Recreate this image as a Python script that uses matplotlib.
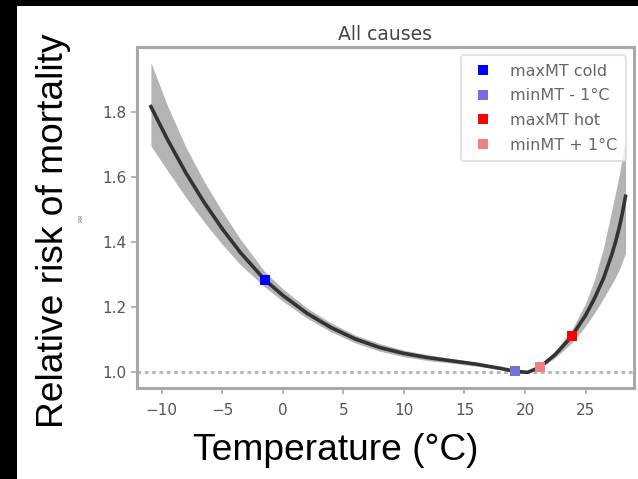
import matplotlib
matplotlib.use("Agg")
import matplotlib.pyplot as plt
from matplotlib.patches import Rectangle

# ---- data ----
temps = [-10.9, -9.5, -8, -6.5, -5, -3.5, -1.5, 0, 2, 4, 6, 8, 10, 12, 14, 16, 18,
         19.2, 20.2, 21.2, 22.5, 23.85, 25, 25.75, 26.5, 27.15, 27.5, 27.8, 28.05, 28.3]
rr = [1.815, 1.712, 1.611, 1.521, 1.440, 1.367, 1.284, 1.236, 1.181, 1.137, 1.102, 1.076,
      1.058, 1.045, 1.035, 1.025, 1.012, 1.003, 1.0, 1.015, 1.055, 1.11, 1.175, 1.228,
      1.29, 1.36, 1.403, 1.447, 1.49, 1.54]
rr_low = [1.695, 1.617, 1.536, 1.461, 1.392, 1.330, 1.262, 1.218, 1.166, 1.124, 1.090, 1.065,
          1.048, 1.036, 1.028, 1.019, 1.008, 1.001, 1.0, 1.012, 1.045, 1.09, 1.142, 1.183,
          1.228, 1.27, 1.293, 1.317, 1.34, 1.366]
rr_high = [1.95, 1.815, 1.690, 1.585, 1.493, 1.408, 1.309, 1.256, 1.197, 1.151, 1.114, 1.088,
           1.068, 1.054, 1.042, 1.031, 1.016, 1.005, 1.0, 1.018, 1.065, 1.13, 1.212, 1.285,
           1.385, 1.495, 1.555, 1.61, 1.665, 1.72]

marker_labels = ["maxMT cold", "minMT - 1°C", "maxMT hot", "minMT + 1°C"]
marker_temps = [-1.5, 19.2, 23.85, 21.2]
marker_rr = [1.284, 1.003, 1.11, 1.015]
marker_colors = ["#0000ff", "#7070e0", "#ff0000", "#f08080"]

xticks = [-10, -5, 0, 5, 10, 15, 20, 25]
yticks = [1.0, 1.2, 1.4, 1.6, 1.8]

W, H = 638, 479
fig = plt.figure(figsize=(W / 100, H / 100), dpi=100)
fig.patch.set_facecolor("white")

# black borders (left / top) of the original screenshot
fig.add_artist(Rectangle((0, 0), 16.5 / W, 1, transform=fig.transFigure,
                         facecolor="black", edgecolor="none", zorder=10))
fig.add_artist(Rectangle((0, 1 - 6 / H), 1, 6 / H, transform=fig.transFigure,
                         facecolor="black", edgecolor="none", zorder=10))

left, right, top, bottom = 137, 634, 47, 388
ax = fig.add_axes([left / W, 1 - bottom / H, (right - left) / W, (bottom - top) / H])

txt_col = "#555555"
spine_col = "#a8a8a8"

ax.axhline(1.0, color="#b8b8b8", linestyle=(0, (1.2, 1.2)), linewidth=2.2, zorder=1)
ax.fill_between(temps, rr_low, rr_high, color="#b4b4b4", linewidth=0, zorder=2)
ax.plot(temps, rr, color="#333333", linewidth=2.6, zorder=3, solid_joinstyle="round")

for lab, t, v, c in zip(marker_labels, marker_temps, marker_rr, marker_colors):
    ax.plot([t], [v], linestyle="none", marker="s", markersize=6.5, color=c,
            markeredgewidth=0, label=lab, zorder=4)

ax.set_xlim(-12.05, 29.0)
ax.set_ylim(0.952, 1.998)
ax.set_xticks(xticks)
ax.set_yticks(yticks)
ax.set_xticklabels([f"{t}".replace("-", "\u2212") for t in xticks])
ax.set_yticklabels([f"{t:.1f}" for t in yticks])
ax.tick_params(colors=spine_col, labelcolor=txt_col, labelsize=11, length=4, width=1.2)
ax.tick_params(axis="x", pad=7)
for s in ax.spines.values():
    s.set_color(spine_col)
    s.set_linewidth(2.2)

ax.set_title("All causes", fontsize=13.5, color="#444444", pad=5)
ax.set_ylabel("RR", fontsize=4.5, color="#777777", labelpad=14)

leg = ax.legend(loc="upper right", fontsize=11.5, labelcolor="#666666", frameon=True,
                handletextpad=0.9, labelspacing=0.6, borderpad=0.55, markerscale=1.0,
                handlelength=1.6)
leg.get_frame().set_edgecolor("#dddddd")
leg.get_frame().set_linewidth(1.5)

big = {"family": "Liberation Sans", "size": 26.7, "color": "black"}
fig.text(54 / W, 1 - 231 / H, "Relative risk of mortality", rotation=90,
         ha="center", va="center", fontdict=big)
fig.text(336 / W, 1 - 451 / H, "Temperature (°C)", ha="center", va="center", fontdict=big)

fig.savefig("out.png", dpi=100)
